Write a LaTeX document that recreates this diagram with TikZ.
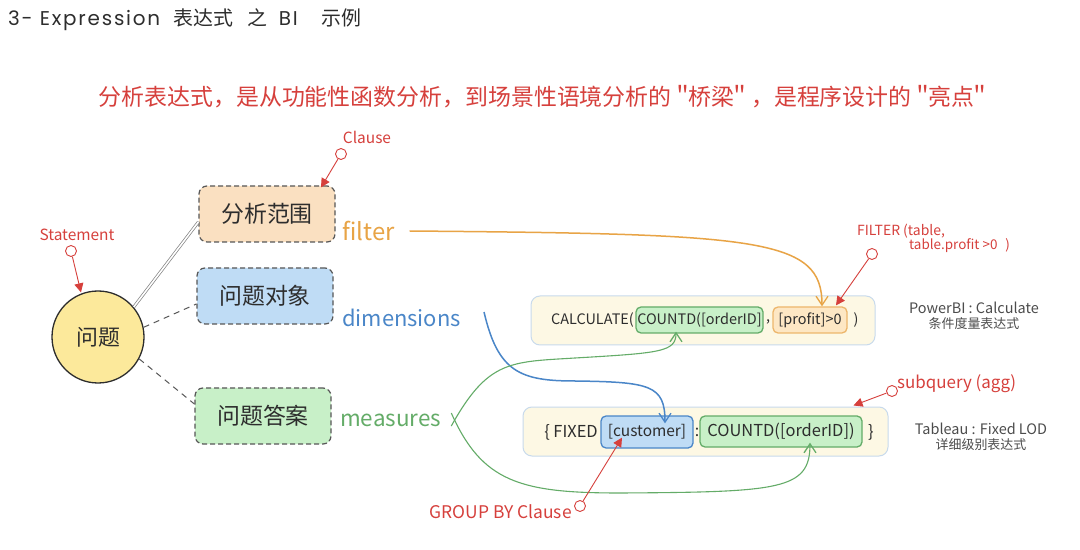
\documentclass[tikz,border=0pt]{standalone}
\usepackage{fontspec}
\setmainfont{Noto Sans CJK SC}
\newfontfamily\wide{Poppins}[LetterSpace=9]
\usetikzlibrary{arrows.meta}
\definecolor{annot}{RGB}{214,64,60}
\definecolor{orng}{RGB}{232,164,70}
\definecolor{blu}{RGB}{74,134,200}
\definecolor{grn}{RGB}{100,172,104}
\definecolor{peach}{RGB}{250,224,193}
\definecolor{lblue}{RGB}{191,220,245}
\definecolor{lgreen}{RGB}{200,240,200}
\definecolor{yel}{RGB}{252,233,155}
\definecolor{cream}{RGB}{253,248,228}
\definecolor{boxedge}{RGB}{200,218,236}
\definecolor{ink}{RGB}{45,45,45}
\definecolor{lorng}{RGB}{253,231,196}
\tikzset{
  fs/.style={font=\fontsize{#1}{#1}\selectfont},
  conceptbox/.style={draw=ink!80, dash pattern=on 5bp off 3bp, line width=1.2bp, rounded corners=8bp,
    minimum width=136bp, minimum height=56bp, inner sep=0, text=ink, fs=23},
  exprbox/.style={draw=boxedge, fill=cream, rounded corners=9bp, line width=1bp, inner sep=0},
  innerbox/.style={rounded corners=5bp, line width=1.3bp, inner sep=0, text=ink, fs=14.5},
  code/.style={text=ink, fs=14.5, inner sep=0},
  annotxt/.style={text=annot, inner sep=0},
  dot/.style={circle, draw=annot, fill=white, line width=0.9bp, minimum size=11bp, inner sep=0},
  annarrow/.style={draw=annot, line width=0.9bp, -{Triangle[length=9bp,width=9bp]}},
  flow/.style={line width=1.5bp, -{Straight Barb[length=9bp,width=12bp,line width=1.3bp]}},
  note/.style={text=ink!85, align=center, inner sep=0},
}
\begin{document}
\begin{tikzpicture}[x=1bp,y=-1bp]
\useasboundingbox[fill=white] (0,0) rectangle (1080,550);

% title
\node[anchor=west, text=ink, fs=20, inner sep=0] (title) at (8,20) {{\wide 3- Expression}\hspace{13bp}表达式\hspace{15bp}之\hspace{11bp}{\wide BI}\hspace{24bp}示例};
\node[text=annot, fs=23, inner sep=0] (subtitle) at (545,97) {分析表达式，是从功能性函数分析，到场景性语境分析的＂\hspace{-6bp}桥梁\hspace{-6bp}＂，是程序设计的＂\hspace{-6bp}亮点\hspace{-6bp}＂};

% main concept nodes
\node[circle, draw=ink, line width=1.3bp, fill=yel, minimum size=92bp, inner sep=0, text=ink, fs=22] (q) at (98,337) {问题};
\node[conceptbox, fill=peach] (scope) at (267,214) {分析范围};
\node[conceptbox, fill=lblue] (obj) at (265,296) {问题对象};
\node[conceptbox, fill=lgreen] (ans) at (263,416) {问题答案};

\draw[ink!60, double=white, double distance=1.6bp, line width=0.7bp] (q.40) -- (scope.west |- 0,222);
\draw[ink!80, line width=1bp, dash pattern=on 6bp off 5bp] (q.12) -- (obj.west |- 0,304);
\draw[ink!80, line width=1bp, dash pattern=on 6bp off 5bp] (q.-28) -- (ans.west |- 0,404);

% colored labels
\node[anchor=west, text=orng, fs=24, inner sep=0] (filter) at (342,231) {filter};
\node[anchor=west, text=blu, fs=22, inner sep=0] (dims) at (342,318) {dimensions};
\node[anchor=west, text=grn, fs=22.5, inner sep=0] (meas) at (340,420) {measures};

% CALCULATE expression
\node[exprbox, minimum width=344bp, minimum height=49bp] (calc) at (703,320.5) {};
\node[innerbox, draw=grn, fill=lgreen, minimum width=127bp, minimum height=26bp] (cg) at (699.5,320) {COUNTD([orderID]};
\node[innerbox, draw=orng!80, fill=lorng, minimum width=74bp, minimum height=26bp] (po) at (810,320) {[profit]>0\hspace{6bp}};
\node[code, anchor=east] (calcl) at (634,320) {CALCULATE(};
\node[code] (comma) at (768,322) {,};
\node[code] (calcr) at (856,320) {)};

% FIXED expression
\node[exprbox, minimum width=365bp, minimum height=49bp] (fixed) at (705.5,431.5) {};
\node[innerbox, draw=blu, fill=lblue, minimum width=92bp, minimum height=32bp, fs=15.5] (cust) at (647,432) {[customer]};
\node[innerbox, draw=grn, fill=lgreen, minimum width=162bp, minimum height=31bp, fs=16.5] (fg) at (781,431.5) {COUNTD([orderID])};
\node[code, anchor=east, fs=16.5] (fixl) at (598,432) {\{ FIXED};
\node[code, fs=16] (colon) at (697,432) {:};
\node[code, fs=16.5] (fixr) at (871,432) {\}};

% flow connectors
\draw[flow, orng] ([xshift=15bp]filter.east) .. controls (760,234) and (822,238) .. ([xshift=12bp]po.north);
\draw[flow, blu] ([xshift=23bp,yshift=6bp]dims.east) .. controls (498,372) and (520,381) .. (575,381)
   .. controls (650,382) and (665,385) .. ([xshift=18bp,yshift=-8bp]cust.north);
\draw[flow, grn, line width=1.1bp] ([xshift=10bp,yshift=-6bp]meas.east) .. controls (488,360) and (510,362) .. (575,358)
   .. controls (660,353) and (676,352) .. ([xshift=-23.5bp,yshift=2bp]cg.south);
\draw[flow, grn, line width=1.1bp] ([xshift=10bp,yshift=7bp]meas.east) .. controls (482,482) and (520,493) .. (620,493)
   .. controls (780,492) and (810,490) .. ([xshift=29bp,yshift=5bp]fg.south);

% annotations
\node[annotxt, fs=15.5] (stmt) at (77,235) {Statement};
\node[dot] (stmtd) at (71,251) {};
\draw[annarrow] (stmtd) -- ([xshift=-17bp,yshift=-2bp]q.north);

\node[annotxt, fs=15.5] (clause) at (367,137) {Clause};
\node[dot] (clawd) at (341,154) {};
\draw[annarrow] (clawd) -- ([xshift=54bp,yshift=-2bp]scope.north);

\node[annotxt, fs=14, anchor=west] (filt1) at (857,231) {FILTER (table,};
\node[annotxt, fs=13.5, anchor=west] (filt2) at (909,246) {table.profit >0\hspace{8bp})};
\node[dot] (filtd) at (872,254) {};
\draw[annarrow] (filtd) -- ([xshift=26bp,yshift=1bp]po.north);

\node[annotxt, fs=17, anchor=west] (subq) at (897,384) {subquery (agg)};
\node[dot] (subqd) at (892,391) {};
\draw[annarrow] (subqd) -- ([xshift=148bp,yshift=1bp]fixed.north);

\node[annotxt, fs=17.5, anchor=east] (gb) at (572,512) {GROUP BY Clause};
\node[dot] (gbd) at (580,506) {};
\draw[annarrow] (gbd) -- ([xshift=-25bp,yshift=11bp]cust.south);

% side notes
\node[note] (pbi) at (974,316) {{\fontsize{14.5}{16}\selectfont PowerBI : Calculate}\\[3bp]{\fontsize{13}{15}\selectfont 条件度量表达式}};
\node[note] (tab) at (981,437) {{\fontsize{14.5}{16}\selectfont Tableau : Fixed LOD}\\[3bp]{\fontsize{13}{15}\selectfont 详细级别表达式}};
\end{tikzpicture}
\end{document}
